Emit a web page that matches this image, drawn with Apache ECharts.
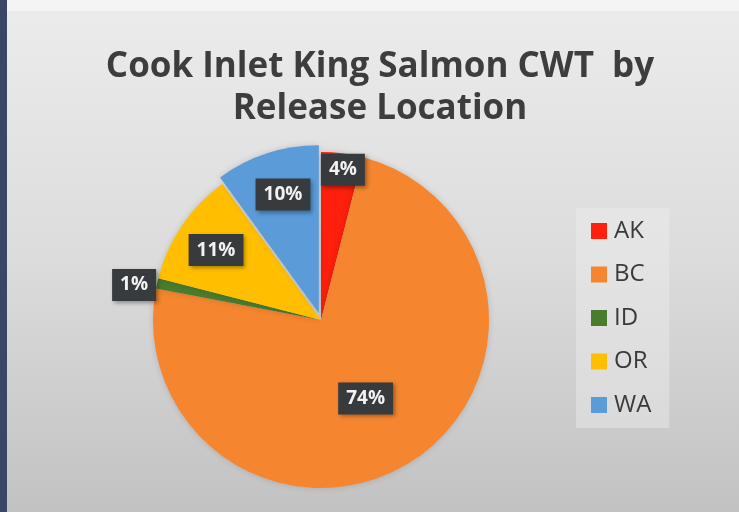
<!DOCTYPE html>
<html>
<head>
<meta charset="utf-8">
<script src="https://cdn.jsdelivr.net/npm/echarts@6/dist/echarts.min.js"></script>
<style>html,body{margin:0;padding:0;background:#fff;}#c{width:739px;height:512px;}</style>
</head>
<body>
<div id="c"></div>
<script>
const titleLines = ['Cook Inlet King Salmon CWT  by', 'Release Location'];
const categories = ['AK', 'BC', 'ID', 'OR', 'WA'];
const values = [4, 74, 1, 11, 10];
const colors = ['#fe1f0c', '#f5862f', '#4b7b2c', '#ffbf00', '#5a9bd8'];
const explodedItems = ['WA'];
// label nudges (px) from the default inside position
const labelNudge = [[11, -64], [-2, 5], [-102, -16], [-33, -21], [-9, -36]];

const chart = echarts.init(document.getElementById('c'));
chart.setOption({
  animation: false,
  backgroundColor: {
    type: 'linear', x: 0, y: 0, x2: 0, y2: 1,
    colorStops: [{offset: 0, color: '#ececec'}, {offset: 0.5, color: '#dcdcdc'}, {offset: 1, color: '#c2c2c2'}]
  },
  graphic: [
    {type: 'rect', left: 0, top: 0, shape: {width: 739, height: 11}, style: {fill: '#f4f4f4'}, z: -1},
    {type: 'rect', left: 0, top: 0, shape: {width: 7, height: 512}, style: {fill: '#3a4663'}, z: -1}
  ],
  title: {
    text: titleLines.join('\n'),
    left: 375, top: 41, textAlign: 'center',
    textStyle: {fontFamily: '"Open Sans", sans-serif', fontWeight: 'bold', fontSize: 35, lineHeight: 42, color: '#3d3d3d'}
  },
  legend: {
    orient: 'vertical', left: 576, top: 208,
    padding: [11, 18, 11, 15], itemGap: 19.5, itemWidth: 16, itemHeight: 16,
    icon: 'rect', backgroundColor: 'rgba(238,238,238,0.45)',
    textStyle: {fontFamily: '"Open Sans", sans-serif', fontSize: 24, lineHeight: 24, color: '#3a3a3a', padding: [0, 0, 0, 2]},
    data: categories
  },
  series: [{
    type: 'pie',
    center: [321, 320], radius: 168,
    startAngle: 90, clockwise: true,
    selectedMode: 'single', selectedOffset: 7,
    data: categories.map((c, i) => ({name: c, value: values[i], selected: explodedItems.includes(c), itemStyle: {color: colors[i]}})),
    itemStyle: {shadowBlur: 6, shadowColor: 'rgba(0,0,0,0.15)'},
    label: {
      position: 'inside',
      formatter: p => Math.round(p.percent) + '%',
      fontFamily: '"Open Sans", sans-serif', fontWeight: 'bold', fontSize: 19,
      color: '#f2f2f2', backgroundColor: '#383b3e', padding: [7, 8, 6, 8],
      shadowBlur: 4, shadowColor: 'rgba(0,0,0,0.35)', shadowOffsetX: 2, shadowOffsetY: 2
    },
    labelLine: {show: false},
    labelLayout: p => ({dx: labelNudge[p.dataIndex][0], dy: labelNudge[p.dataIndex][1]}),
    emphasis: {disabled: true}
  }]
});
</script>
</body>
</html>
